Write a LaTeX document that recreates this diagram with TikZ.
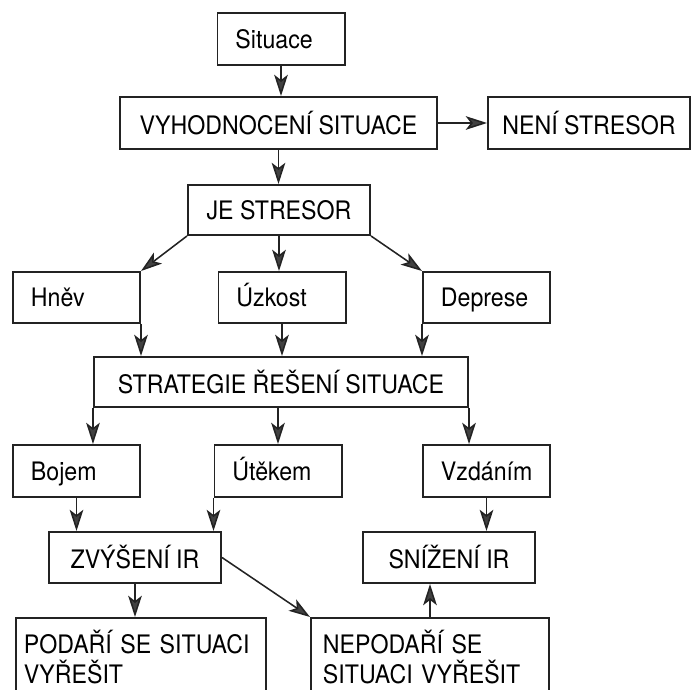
\documentclass[tikz,border=0pt]{standalone}
\usepackage{fontspec}
\setmainfont{TeX Gyre Heros}[FakeStretch=0.91]
\usepackage{tikz}
\usetikzlibrary{arrows.meta,positioning,calc}
\definecolor{framegray}{RGB}{35,35,35}
\definecolor{tipgray}{RGB}{65,65,65}

\begin{document}
\begin{tikzpicture}[
      x=0.025cm, y=-0.025cm,
      box/.style={rectangle, draw=framegray, line width=1.4pt, inner sep=0pt,
                  minimum height=1.3cm, font=\fontsize{18.1}{21.3}\selectfont},
      smallbox/.style={box, align=left, inner xsep=0.45cm, text width=2.275cm,
                       text height=0.6cm, text depth=0.15cm,
                       minimum height=1.275cm},
      twoline/.style={box, anchor=north west, align=left, inner xsep=0.3cm,
                      minimum height=1.95cm},
      arrow/.style={-{Stealth[length=0.53cm, width=0.34cm, inset=0.13cm,
                    fill=tipgray]}, line width=1.1pt, draw=framegray},
    ]
      \useasboundingbox (0,0) rectangle (692,690);
      \clip (0,0) rectangle (692,690);
      %% Evaluation
      \node[smallbox, minimum height=1.3cm] (sit) at (281, 39) {Situace};
      \node[box, minimum width=7.925cm] (vyh) at (278.5, 123)
            {VYHODNOCENÍ SITUACE};
      \node[box, minimum width=5.05cm] (neni) at (589, 123) {NENÍ STRESOR};
      \node[box, minimum width=4.55cm, minimum height=1.25cm] (je)
            at (279, 210) {JE STRESOR};
      \draw[arrow] (sit.south) -- (sit.south |- vyh.north);
      \draw[arrow] (vyh.east) -- (neni.west);
      \draw[arrow] (vyh.south) -- (vyh.south |- je.north);
      %% Emotions
      \node[smallbox] (hnev) at ( 76.5, 297.5) {Hněv};
      \node[smallbox] (uzk)  at (282.0, 297.5) {Úzkost};
      \node[smallbox] (dep)  at (486.5, 297.5) {Deprese};
      \draw[arrow] (je.south west) -- (hnev.north east);
      \draw[arrow] (je.south) -- (je.south |- uzk.north);
      \draw[arrow] (je.south east) -- (dep.north west);
      %% Coping strategy
      \node[box, minimum width=9.35cm, minimum height=1.25cm] (str)
            at (281, 382) {STRATEGIE ŘEŠENÍ SITUACE};
      \draw[arrow] (hnev.south east) -- (hnev.south east |- str.north);
      \draw[arrow] (uzk.south) -- (uzk.south |- str.north);
      \draw[arrow] (dep.south west) -- (dep.south west |- str.north);
      \node[smallbox, minimum height=1.3cm] (boj) at ( 76.5, 471) {Bojem};
      \node[smallbox, minimum height=1.3cm] (ute) at (278.0, 471) {Útěkem};
      \node[smallbox, minimum height=1.3cm] (vzd) at (486.5, 471) {Vzdáním};
      \draw[arrow] (str.south west) -- (str.south west |- boj.north);
      \draw[arrow] (ute.north |- str.south) -- (ute.north);
      \draw[arrow] (str.south east) -- (str.south east |- vzd.north);
      %% Internal regulation
      \node[box, minimum width=4.3cm, minimum height=1.275cm] (zvy)
            at (135, 557.5) {ZVÝŠENÍ IR};
      \node[box, minimum width=4.3cm, minimum height=1.275cm] (sni)
            at (449, 557.5) {SNÍŽENÍ IR};
      \draw[arrow] (boj.south) -- (boj.south |- zvy.north);
      \draw[arrow] (ute.south west) -- (ute.south west |- zvy.north);
      \draw[arrow] (vzd.south) -- (vzd.south |- sni.north);
      %% Outcome
      \node[twoline, text width=5.85cm, inner xsep=0.2cm] (pod) at (15, 617)
            {PODAŘÍ SE SITUACI\\VYŘEŠIT};
      \node[twoline, text width=5.35cm] (nep) at (310, 617)
            {NEPODAŘÍ SE\\SITUACI VYŘEŠIT};
      \draw[arrow] (zvy.south) -- (zvy.south |- pod.north);
      \draw[arrow] (zvy.east) -- (nep.north west);
      \draw[arrow] (nep.north) -- (nep.north |- sni.south);
    \end{tikzpicture}
\end{document}
